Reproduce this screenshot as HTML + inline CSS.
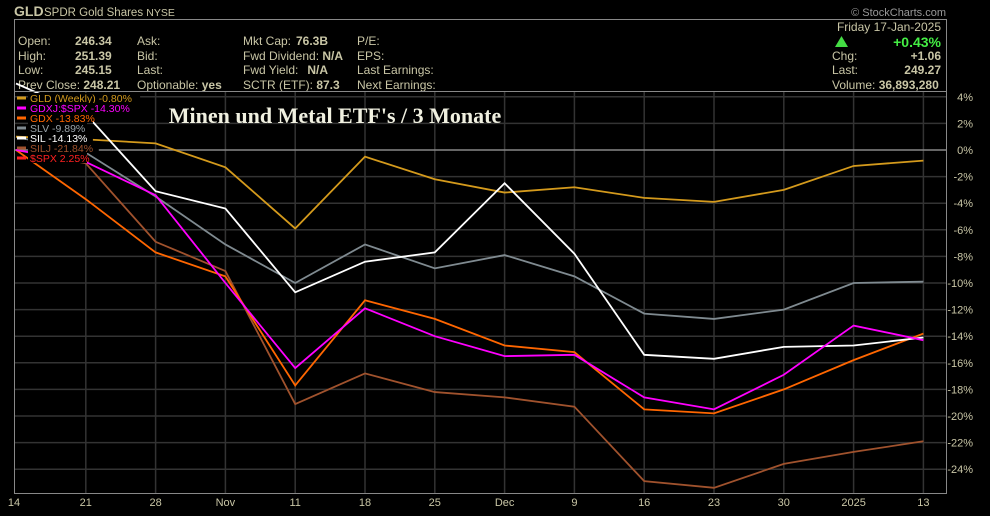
<!DOCTYPE html>
<html><head><meta charset="utf-8"><style>
body{margin:0;background:#000;width:990px;height:511px;overflow:hidden;font-family:"Liberation Sans",sans-serif}
svg text{font-family:"Liberation Sans",sans-serif}
</style></head><body>
<svg id="chart" width="990" height="511" viewBox="0 0 990 511" xmlns="http://www.w3.org/2000/svg">
<rect width="990" height="511" fill="#000"/>
<g fill="#c9c6a6" font-size="12">
<text x="14" y="16" font-size="14" font-weight="bold" fill="#c9c6a6">GLD</text>
<text x="44" y="16" font-size="11.5">SPDR Gold Shares <tspan font-size="10.5">NYSE</tspan></text>
<text x="946" y="16" font-size="11" fill="#999" text-anchor="end">© StockCharts.com</text>
</g>
<rect x="14.5" y="19.5" width="932" height="72" fill="none" stroke="#888"/>
<g font-size="12" fill="#c9c6a6">
<text x="18" y="45">Open:</text><text x="75" y="45" font-weight="bold">246.34</text>
<text x="18" y="60">High:</text><text x="75" y="60" font-weight="bold">251.39</text>
<text x="18" y="74">Low:</text><text x="75" y="74" font-weight="bold">245.15</text>
<text x="18" y="89">Prev Close: <tspan font-weight="bold">248.21</tspan></text>
<text x="137" y="45">Ask:</text><text x="137" y="60">Bid:</text><text x="137" y="74">Last:</text>
<text x="137" y="89">Optionable: <tspan font-weight="bold">yes</tspan></text>
<text x="243" y="45">Mkt Cap:</text><text x="328" y="45" font-weight="bold" text-anchor="end">76.3B</text>
<text x="243" y="60">Fwd Dividend: <tspan font-weight="bold">N/A</tspan></text>
<text x="243" y="74">Fwd Yield:</text><text x="328" y="74" font-weight="bold" text-anchor="end">N/A</text>
<text x="243" y="89">SCTR (ETF): <tspan font-weight="bold">87.3</tspan></text>
<text x="357" y="45">P/E:</text><text x="357" y="60">EPS:</text><text x="357" y="74">Last Earnings:</text><text x="357" y="89">Next Earnings:</text>
<text x="941" y="31" text-anchor="end">Friday  17-Jan-2025</text>
<polygon points="835,47 848,47 841.5,36" fill="#44dd44"/>
<text x="941" y="47" text-anchor="end" font-weight="bold" font-size="14" fill="#44ee44">+0.43%</text>
<text x="832" y="60">Chg:</text><text x="941" y="60" text-anchor="end" font-weight="bold">+1.06</text>
<text x="832" y="74">Last:</text><text x="941" y="74" text-anchor="end" font-weight="bold">249.27</text>
<text x="832" y="89">Volume: <tspan font-weight="bold">36,893,280</tspan></text>
</g>
<g id="grid"></g>
<g id="series"></g>
<rect x="14.5" y="91.5" width="932" height="402" fill="none" stroke="#888"/>
<g id="axes"></g>
<text x="335" y="123" text-anchor="middle" font-weight="bold" font-size="22" fill="#f0f0e0" style="font-family:'Liberation Serif',serif">Minen und Metal ETF's / 3 Monate</text>
<g id="legend" font-size="10.5"></g>
</svg>
<script>
const xLabels=["14","21","28","Nov","11","18","25","Dec","9","16","23","30","2025","13"];
const yTicks=[4,2,0,-2,-4,-6,-8,-10,-12,-14,-16,-18,-20,-22,-24];
const gld=[1.0,0.8,0.5,-1.3,-5.9,-0.5,-2.2,-3.2,-2.8,-3.6,-3.9,-3.0,-1.2,-0.8];
const gdxj=[0,-0.9,-3.4,-10.0,-16.4,-11.9,-14.0,-15.5,-15.4,-18.6,-19.5,-16.9,-13.2,-14.3];
const gdx=[0,-3.7,-7.7,-9.5,-17.7,-11.3,-12.7,-14.7,-15.2,-19.5,-19.8,-18.0,-15.8,-13.8];
const slv=[1.0,-0.2,-3.5,-7.1,-10.0,-7.1,-8.9,-7.9,-9.5,-12.3,-12.7,-12.0,-10.0,-9.9];
const sil=[5.0,2.7,-3.1,-4.4,-10.7,-8.4,-7.7,-2.5,-7.8,-15.4,-15.7,-14.8,-14.7,-14.1];
const silj=[0,-1.0,-6.9,-9.1,-19.1,-16.8,-18.2,-18.6,-19.3,-24.9,-25.4,-23.6,-22.7,-21.9];
const legendLabels=["GLD (Weekly) -0.80%","GDXJ:$SPX -14.30%","GDX -13.83%","SLV -9.89%","SIL -14.13%","SILJ -21.84%","$SPX 2.25%"];
const legendColors=["#d49a1c","#ff00ff","#ff6600","#7f8a90","#ffffff","#a0522d","#ff2020"];
const NS="http://www.w3.org/2000/svg";
const X=i=>16+i*69.8;
const Y=p=>150-p*13.3;
function mk(t,a,parent){const e=document.createElementNS(NS,t);for(const k in a)e.setAttribute(k,a[k]);parent.appendChild(e);return e;}
const grid=document.getElementById('grid'),axes=document.getElementById('axes'),ser=document.getElementById('series'),leg=document.getElementById('legend');
xLabels.forEach((l,i)=>{
  if(i>0){const g=mk('line',{x1:X(i),x2:X(i),y1:92,y2:493,stroke:'#333','stroke-width':1.5},grid);
  
  }
  const t=mk('text',{x:i==0?14:X(i),y:506,'text-anchor':'middle','font-size':11,fill:'#c9c6a6'},axes);
  t.textContent=l;
  
  
});
yTicks.forEach(v=>{
  const g=mk('line',{x1:15,x2:946,y1:Y(v),y2:Y(v),stroke:v==0?'#888':'#333','stroke-width':1.5},grid);
  
  
  const t=mk('text',{x:973,y:Y(v)+4,'text-anchor':'end','font-size':11,fill:'#c9c6a6'},axes);
  t.textContent=(v<0?'-':'')+Math.abs(v)+'%';
  
  
});
const series=[[silj,legendColors[5],'silj-line'],[slv,legendColors[3],'slv-line'],[gld,legendColors[0],'gld-line'],[gdx,legendColors[2],'gdx-line'],[sil,legendColors[4],'sil-line'],[gdxj,legendColors[1],'gdxj-spx-line']];
series.forEach(([d,c,n])=>{
  const p=mk('polyline',{points:d.map((v,i)=>X(i)+','+Y(v)).join(' '),fill:'none',stroke:c,'stroke-width':1.8},ser);
  
  
});
legendLabels.forEach((l,i)=>{
  const y=98+i*10;
  mk('rect',{x:17,y:y-1.5,width:9,height:3,fill:legendColors[i]},leg);
  mk('rect',{x:28,y:y-5,width:l.length*5.9,height:10,fill:'#000'},leg);
  const t=mk('text',{x:30,y:y+4,fill:legendColors[i]==='#7f8a90'?'#9aa4aa':legendColors[i]},leg);
  t.textContent=l;
  
  
});
</script>
</body></html>
